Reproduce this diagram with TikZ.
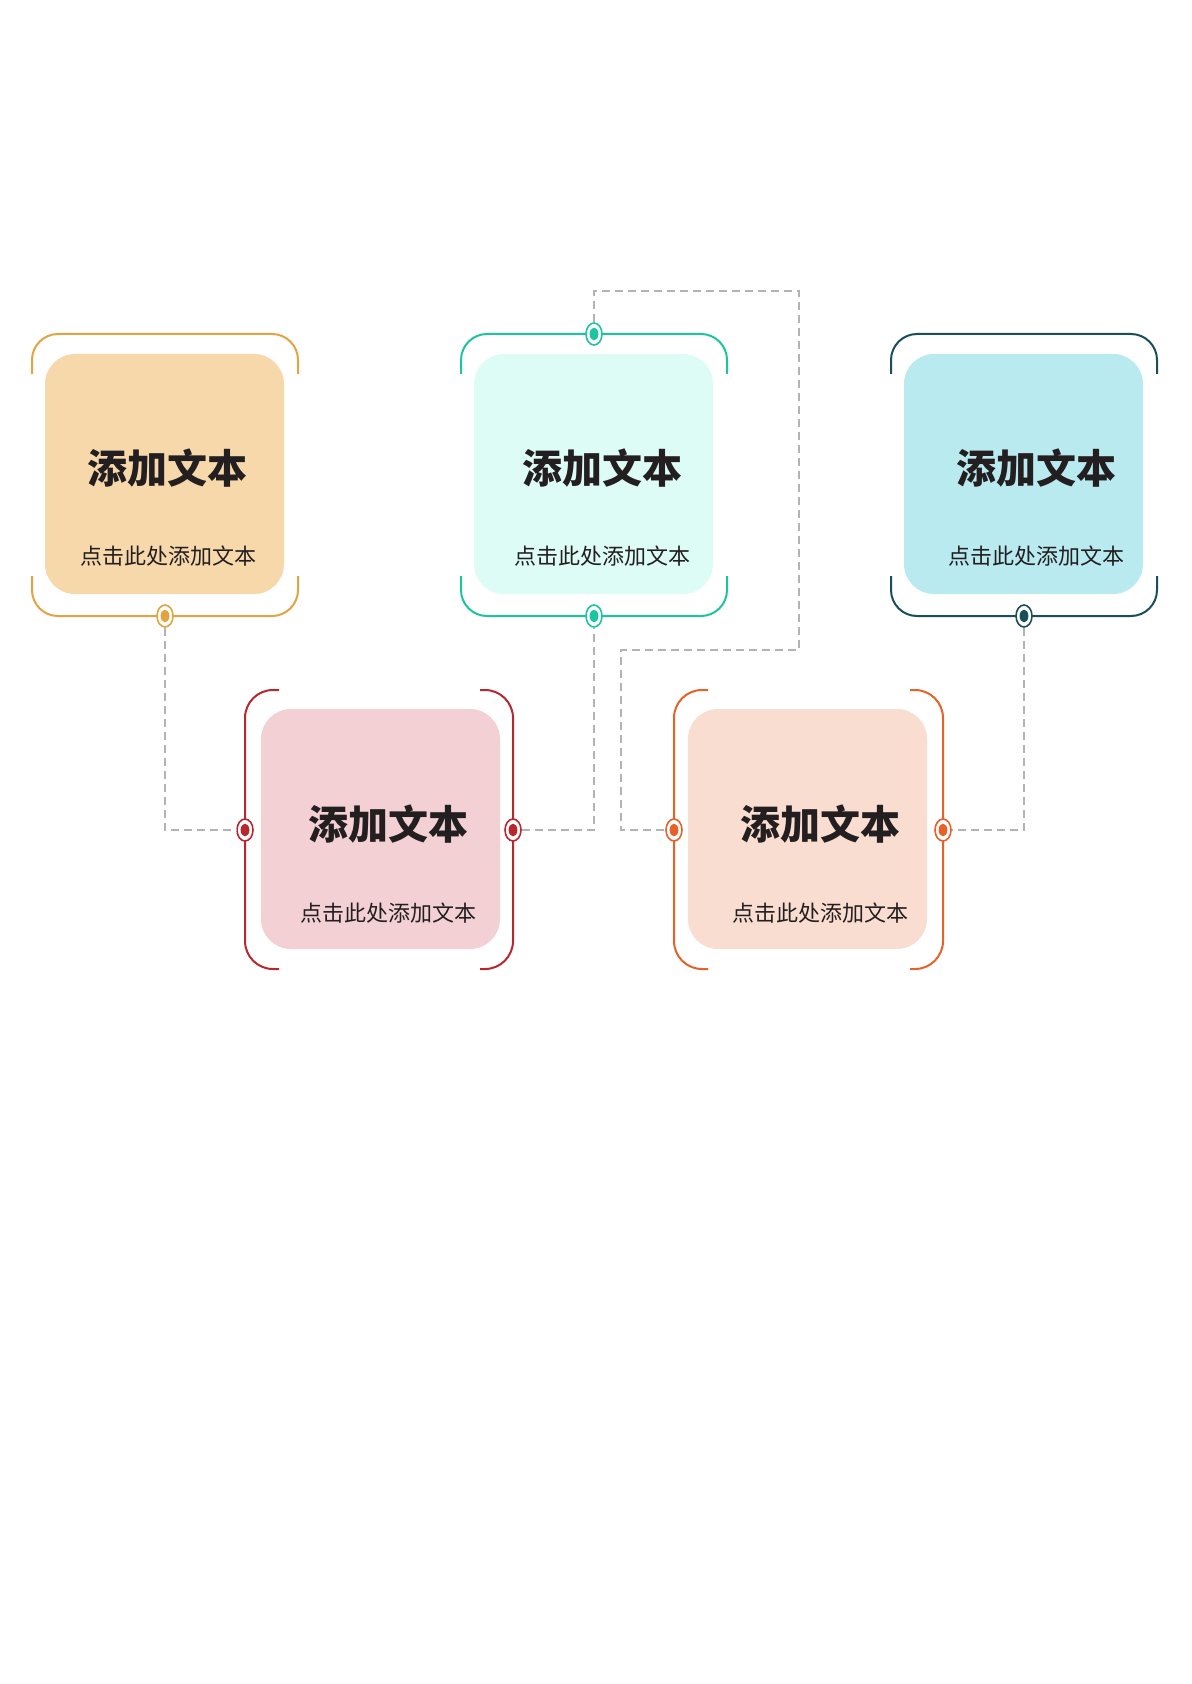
\documentclass[tikz,border=0pt]{standalone}
\usepackage{fontspec}
\newfontfamily\cjk{Noto Sans CJK SC}
\usetikzlibrary{shapes.geometric}
\definecolor{cA}{HTML}{E2A440}\definecolor{fA}{HTML}{F6D8AB}
\definecolor{cB}{HTML}{1DC4A0}\definecolor{fB}{HTML}{DDFCF6}
\definecolor{cC}{HTML}{1A4F5A}\definecolor{fC}{HTML}{B9EAF0}
\definecolor{cD}{HTML}{B8262E}\definecolor{fD}{HTML}{F3D0D4}
\definecolor{cE}{HTML}{E5622A}\definecolor{fE}{HTML}{FADDD1}
\definecolor{dashgrey}{HTML}{B3B3B3}
\definecolor{ink}{HTML}{231F20}
\begin{document}
\begin{tikzpicture}[x=0.5pt,y=-0.5pt,
  card/.style={minimum width=119.5pt, minimum height=120pt, rounded corners=15pt, inner sep=0pt, draw=none},
  brk/.style={line width=1pt, rounded corners=13pt},
  vbrk/.style={line width=1pt, rounded corners=14pt},
  pindot/.style={ellipse, draw=#1, fill=white, minimum width=8pt, minimum height=11pt, inner sep=0pt, line width=0.8pt,
    path picture={\fill[#1] (path picture bounding box.center) ellipse [x radius=2.2pt, y radius=3.2pt];}},
  conn/.style={draw=dashgrey, line width=0.75pt, dash pattern=on 4pt off 2.5pt},
  ttl/.style={font=\cjk\bfseries\fontsize{20}{24}\selectfont, text=ink, inner sep=0pt},
  subt/.style={font=\cjk\fontsize{11}{13}\selectfont, text=ink, inner sep=0pt}]
\fill[white] (0,0) rectangle (1191,1684);
\useasboundingbox (0,0) rectangle (1191,1684);

% cards
\node[card, fill=fA] (b1) at (164.5,474) {};
\node[card, fill=fB] (b2) at (593.5,474) {};
\node[card, fill=fC] (b3) at (1023.5,474) {};
\node[card, fill=fD] (b4) at (380.5,829) {};
\node[card, fill=fE] (b5) at (807.5,829) {};

% texts
\node[ttl] (t1) at (167,468) {添加文本};
\node[subt] (s1) at (168,556) {点击此处添加文本};
\node[ttl] (t2) at (602,468) {添加文本};
\node[subt] (s2) at (602,556) {点击此处添加文本};
\node[ttl] (t3) at (1036,468) {添加文本};
\node[subt] (s3) at (1036,556) {点击此处添加文本};
\node[ttl] (t4) at (388,824) {添加文本};
\node[subt] (s4) at (388,913) {点击此处添加文本};
\node[ttl] (t5) at (820,824) {添加文本};
\node[subt] (s5) at (820,913) {点击此处添加文本};

% brackets of the top row
\draw[brk, cA] (32,374) -- (32,334) -- (298,334) -- (298,374);
\draw[brk, cA] (32,576) -- (32,616) -- (298,616) -- (298,576);
\draw[brk, cB] (461,374) -- (461,334) -- (727,334) -- (727,374);
\draw[brk, cB] (461,576) -- (461,616) -- (727,616) -- (727,576);
\draw[brk, cC] (891,374) -- (891,334) -- (1157,334) -- (1157,374);
\draw[brk, cC] (891,576) -- (891,616) -- (1157,616) -- (1157,576);
% brackets of the bottom row
\draw[vbrk, cD] (279,690) -- (245,690) -- (245,969) -- (279,969);
\draw[vbrk, cD] (480,690) -- (513,690) -- (513,969) -- (480,969);
\draw[vbrk, cE] (708,690) -- (674,690) -- (674,969) -- (708,969);
\draw[vbrk, cE] (910,690) -- (943,690) -- (943,969) -- (910,969);

% pins
\node[pindot=cA] (d1) at (165,616) {};
\node[pindot=cB] (d2t) at (594,334) {};
\node[pindot=cB] (d2b) at (594,616) {};
\node[pindot=cC] (d3) at (1024,616) {};
\node[pindot=cD] (d4l) at (245,830) {};
\node[pindot=cD] (d4r) at (513,830) {};
\node[pindot=cE] (d5l) at (674,830) {};
\node[pindot=cE] (d5r) at (943,830) {};

\coordinate (k1) at (799,291);
\coordinate (k2) at (621,650);

% connectors
\draw[conn] (d1.south) |- (d4l.west);
\draw[conn] (d4r.east) -| (d2b.south);
\draw[conn] (d2t.north) |- (k1) |- (k2) |- (d5l.west);
\draw[conn] (d3.south) |- (d5r.east);
\end{tikzpicture}
\end{document}
